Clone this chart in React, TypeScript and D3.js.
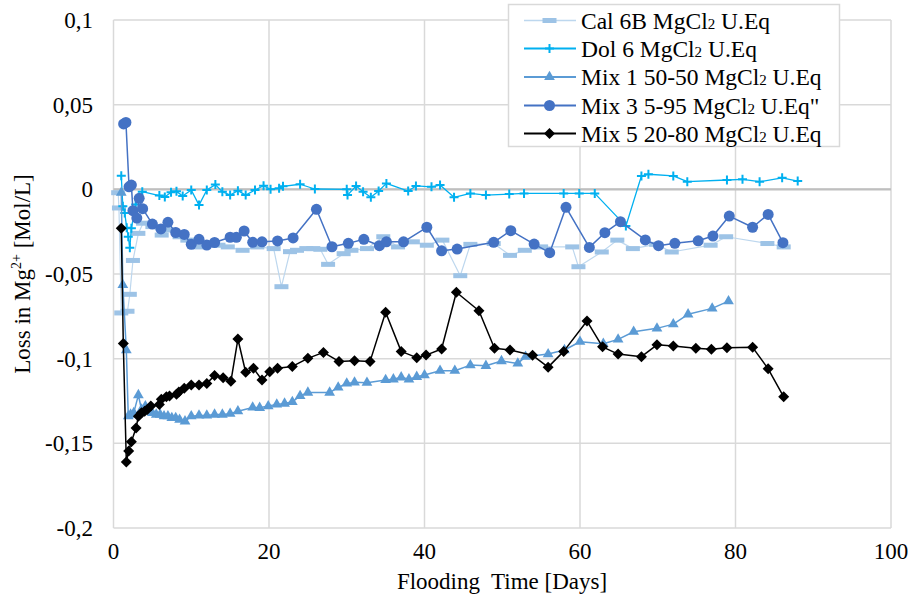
import React from 'react'
import { scaleLinear, line, symbol, symbolTriangle } from 'd3'

// [day, loss] pairs
const cal6B: [number, number][] = [
  [0.6, -0.002], [0.7, -0.011], [1, -0.073], [1.8, -0.072], [2.1, -0.062], [2.5, -0.042],
  [3.2, -0.026], [3.8, -0.02], [5, -0.022], [6.2, -0.027], [7.3, -0.024], [8.5, -0.028],
  [9.5, -0.03], [11.1, -0.034], [12.6, -0.0315], [13.5, -0.033], [14.7, -0.034], [16.6, -0.036],
  [18.5, -0.034], [20.6, -0.035], [21.6, -0.0575], [22.7, -0.0368], [23.6, -0.036], [24.8, -0.035],
  [25.7, -0.035], [26.6, -0.0354], [27.6, -0.0443], [29.6, -0.038], [30.6, -0.036], [32.6, -0.035],
  [34.7, -0.028], [36.6, -0.034], [38.5, -0.031], [40.3, -0.033], [42.3, -0.03], [44.6, -0.051],
  [45.9, -0.0325], [48.9, -0.032], [51, -0.039], [52.9, -0.036], [55, -0.034], [59, -0.034],
  [59.8, -0.0457], [62.8, -0.037], [64.8, -0.03], [66.8, -0.035], [69.8, -0.0325], [71.8, -0.037],
  [76.8, -0.033], [78.8, -0.028], [84.1, -0.032], [86.2, -0.034],
]

const dol6: [number, number][] = [
  [1, 0.008], [1.2, -0.01], [1.45, -0.014], [1.7, -0.0227], [1.9, -0.028], [2.1, -0.0345],
  [2.3, -0.023], [2.85, -0.009], [3.7, -0.0014], [5.9, -0.0037], [6.6, -0.0045], [7.4, -0.0017],
  [8.1, -0.0012], [8.9, -0.0039], [10, -0.0004], [11, -0.0093], [12, -0.0004], [13.1, 0.0028],
  [14, -0.0014], [15, -0.0034], [16, -0.0008], [17, -0.0034], [18.2, -0.0004], [19.3, 0.0021],
  [20.2, 0], [21.3, 0.0006], [21.8, 0.0018], [24, 0.003], [25.9, 0.0002], [30, 0],
  [30.1, -0.0034], [31.2, 0.002], [32.1, -0.0014], [33.1, -0.0047], [34.1, -0.001], [35.1, 0.0035],
  [37.9, -0.001], [38.9, 0.002], [40.9, 0.0015], [42, 0.0025], [43.8, -0.0047], [45.9, -0.0024],
  [47.9, -0.0034], [50.9, -0.0028], [52.8, -0.0024], [57.9, -0.0024], [59.9, -0.0024], [61.9, -0.0024],
  [65.9, -0.0217], [67.9, 0.0079], [68.8, 0.0089], [72, 0.0079], [73.8, 0.0045], [78.9, 0.0055],
  [80.9, 0.0059], [83.1, 0.0045], [86, 0.0068], [88, 0.0049],
]

const mix1: [number, number][] = [
  [1, -0.002], [1.2, -0.0565], [1.65, -0.095], [1.9, -0.134], [2.2, -0.133], [2.6, -0.132],
  [3.2, -0.1215], [3.6, -0.13], [4.1, -0.128], [4.5, -0.131], [5, -0.132], [5.5, -0.133],
  [6, -0.133], [6.5, -0.134], [7, -0.134], [7.5, -0.135], [8, -0.135], [8.5, -0.136],
  [9.2, -0.137], [10, -0.134], [11, -0.1335], [12, -0.1335], [13, -0.133], [14, -0.133],
  [15, -0.1325], [16, -0.131], [17.9, -0.1288], [18.8, -0.129], [19.9, -0.128], [21, -0.127],
  [22, -0.1265], [23, -0.1255], [24, -0.122], [25, -0.12], [27.8, -0.12], [28.9, -0.117],
  [30, -0.1146], [31, -0.114], [32.6, -0.1142], [35, -0.1126], [36, -0.1122], [37, -0.111],
  [38, -0.1122], [39, -0.1107], [40, -0.1097], [42, -0.1071], [43.9, -0.1071], [45.9, -0.1038],
  [47.9, -0.1042], [49.9, -0.1014], [52, -0.1028], [53, -0.0988], [55.9, -0.0973], [58, -0.0949],
  [60, -0.09], [63, -0.0912], [64.9, -0.0886], [66.9, -0.0841], [69.9, -0.0821], [72, -0.0796],
  [73.9, -0.0738], [77, -0.0703], [79.1, -0.066],
]

const mix3: [number, number][] = [
  [1.3, 0.0386], [1.6, 0.0395], [2, 0.0015], [2.3, 0.0025], [2.5, -0.0126], [3, -0.017],
  [3.3, -0.0053], [3.75, -0.0114], [5, -0.0205], [6.1, -0.0234], [7, -0.0195], [8, -0.0255],
  [9.1, -0.0266], [10, -0.0325], [11, -0.0295], [12, -0.0329], [13, -0.0314], [15, -0.0283],
  [15.8, -0.0283], [16.8, -0.0246], [17.9, -0.0313], [19.1, -0.031], [21.1, -0.0305], [23.1, -0.0287],
  [26.1, -0.0118], [28.1, -0.0339], [30.2, -0.0319], [32.2, -0.0295], [34.2, -0.0333], [35.1, -0.031],
  [37.3, -0.031], [40.3, -0.0224], [42.2, -0.0363], [44.2, -0.0353], [48.9, -0.0313], [51.1, -0.0244],
  [54.1, -0.0323], [56.1, -0.0374], [58.2, -0.0106], [61.2, -0.0343], [63.2, -0.0256], [65.2, -0.0191],
  [68.4, -0.0299], [70.1, -0.0333], [72.2, -0.0319], [75.2, -0.0304], [77.1, -0.0276], [79.2, -0.0158],
  [82.2, -0.0224], [84.2, -0.0148], [86.1, -0.0315],
]

const mix5: [number, number][] = [
  [1, -0.023], [1.26, -0.091], [1.65, -0.161], [1.95, -0.1545], [2.3, -0.149], [2.9, -0.141],
  [3.2, -0.134], [3.6, -0.132], [4, -0.131], [4.35, -0.13], [4.8, -0.128], [5.9, -0.127],
  [6.15, -0.124], [6.8, -0.1225], [7.2, -0.122], [8.1, -0.121], [8.4, -0.1197], [9.1, -0.1175],
  [10, -0.1156], [11, -0.1156], [12, -0.1146], [13, -0.11], [14.1, -0.1113], [15.1, -0.1134],
  [16, -0.0884], [17, -0.108], [18, -0.1057], [19.1, -0.1126], [20.1, -0.1077], [21.1, -0.1057],
  [23, -0.1046], [25, -0.0998], [27, -0.0963], [29, -0.1016], [31, -0.1012], [33, -0.1016],
  [35, -0.0726], [37, -0.0957], [39, -0.0994], [40.2, -0.0979], [42.2, -0.0943], [44.1, -0.0608],
  [47, -0.0717], [49, -0.0939], [51, -0.0949], [53.9, -0.098], [55.9, -0.105], [57.9, -0.0957],
  [60.9, -0.0778], [62.9, -0.093], [64.9, -0.0973], [67.9, -0.0988], [69.9, -0.0918], [72, -0.0925],
  [74.9, -0.0939], [76.9, -0.0945], [78.9, -0.0935], [82.2, -0.0933], [84.2, -0.106], [86.2, -0.1225],
]

const xTicks = [0, 20, 40, 60, 80, 100]
const yTicks = [0.1, 0.05, 0, -0.05, -0.1, -0.15, -0.2]
const yTickLabels = ['0,1', '0,05', '0', '-0,05', '-0,1', '-0,15', '-0,2']

const font =
  "'Liberation Serif', 'Times New Roman', Times, Tinos, 'DejaVu Serif', 'Noto Serif', FreeSerif, 'Nimbus Roman', serif"
const txt = { fontFamily: font }

type Kind = 'dash' | 'plus' | 'tri' | 'circle' | 'diamond'

const series = [
  { name: 'Cal 6B', rest: ' U.Eq', data: cal6B, line: '#BDD7EE', fill: '#9DC3E6', kind: 'dash' as Kind, w: 1.2 },
  { name: 'Dol 6', rest: ' U.Eq', data: dol6, line: '#00B0F0', fill: '#00B0F0', kind: 'plus' as Kind, w: 1.3 },
  { name: 'Mix 1 50-50', rest: ' U.Eq', data: mix1, line: '#5B9BD5', fill: '#5B9BD5', kind: 'tri' as Kind, w: 1.5 },
  { name: 'Mix 3 5-95', rest: ' U.Eq"', data: mix3, line: '#4472C4', fill: '#4472C4', kind: 'circle' as Kind, w: 1.5 },
  { name: 'Mix 5 20-80', rest: ' U.Eq', data: mix5, line: '#000000', fill: '#000000', kind: 'diamond' as Kind, w: 1.5 },
]

const triPath = symbol().type(symbolTriangle).size(50)()

function Marker({ kind, x, y, fill }: { kind: Kind; x: number; y: number; fill: string }) {
  if (kind === 'dash') return <rect x={x - 7} y={y - 2.5} width={14} height={5} fill={fill} />
  if (kind === 'plus')
    return <path d={`M${x - 4.5},${y}H${x + 4.5}M${x},${y - 4.5}V${y + 4.5}`} stroke={fill} strokeWidth={2} />
  if (kind === 'tri') return <path d={triPath!} transform={`translate(${x},${y})`} fill={fill} />
  if (kind === 'circle') return <circle cx={x} cy={y} r={5.5} fill={fill} />
  const r = 5.5
  return <path d={`M${x},${y - r}L${x + r},${y}L${x},${y + r}L${x - r},${y}Z`} fill={fill} />
}

function Legend() {
  const rows = [20.5, 48.5, 77, 105.5, 133.5]
  return (
    <g>
      <rect x={508.5} y={4.5} width={331} height={142} fill="white" stroke="#D9D9D9" strokeWidth={1.5} />
      {series.map((s, i) => (
        <g key={s.name}>
          <line x1={524} x2={576} y1={rows[i]} y2={rows[i]} stroke={s.line} strokeWidth={s.w + 0.5} />
          <Marker kind={s.kind} x={549.5} y={rows[i]} fill={s.fill} />
          <text x={581} y={rows[i] + 8} style={txt} fontSize={23.5} fill="#000">
            {s.name} MgCl<tspan fontSize={15}>2</tspan>{s.rest}
          </text>
        </g>
      ))}
    </g>
  )
}

export default function App() {
  const x = scaleLinear().domain([0, 100]).range([113.5, 891])
  const y = scaleLinear().domain([-0.2, 0.1]).range([528, 20])
  const path = line<[number, number]>().x(d => x(d[0])).y(d => y(d[1]))

  return (
    <div style={{ position: 'absolute', left: 0, top: 0 }}>
      <svg width={913} height={603} style={{ display: 'block', background: 'white' }}>
        <rect x={0} y={0} width={913} height={603} fill="white" />
        {/* grid */}
        {yTicks.map(t => (
          <line key={'gy' + t} x1={x(0)} x2={x(100)} y1={y(t)} y2={y(t)} stroke="#D9D9D9" strokeWidth={1.5} />
        ))}
        {xTicks.map(t => (
          <line key={'gx' + t} x1={x(t)} x2={x(t)} y1={y(0.1)} y2={y(-0.2)} stroke="#D9D9D9" strokeWidth={1.5} />
        ))}
        <line x1={x(0)} x2={x(100)} y1={y(0)} y2={y(0)} stroke="#BFBFBF" strokeWidth={2.2} />

        {/* series */}
        {series.map(s => (
          <g key={s.name}>
            <path d={path(s.data)!} fill="none" stroke={s.line} strokeWidth={s.w} strokeLinejoin="round" />
            {s.data.map((d, i) => (
              <Marker key={i} kind={s.kind} x={x(d[0])} y={y(d[1])} fill={s.fill} />
            ))}
          </g>
        ))}

        {/* tick labels */}
        {yTicks.map((t, i) => (
          <text key={'ly' + t} x={93} y={y(t) + 8} textAnchor="end" style={txt} fontSize={23}>
            {yTickLabels[i]}
          </text>
        ))}
        {xTicks.map(t => (
          <text key={'lx' + t} x={x(t)} y={559} textAnchor="middle" style={txt} fontSize={23}>
            {t}
          </text>
        ))}

        <text x={502} y={589} textAnchor="middle" style={txt} fontSize={23}>
          Flooding{'\u00a0 '}Time [Days]
        </text>
        <text transform={`translate(30,${y(-0.05)}) rotate(-90)`} textAnchor="middle" style={txt} fontSize={23}>
          Loss in Mg<tspan fontSize={14} dy={-9}>2+</tspan><tspan dy={9}> [Mol/L]</tspan>
        </text>

        <Legend />
      </svg>
    </div>
  )
}
